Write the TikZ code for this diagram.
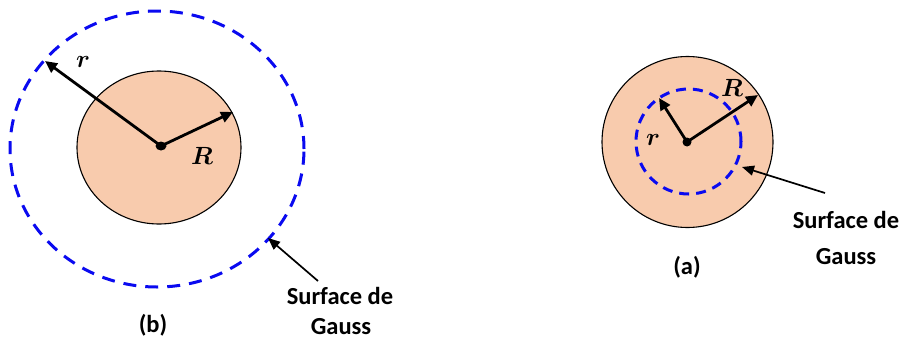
\documentclass[tikz,border=0pt]{standalone}
\usepackage{fontspec}
\usepackage{amsmath,bm}
\newfontfamily\lblfont{Carlito}
\usetikzlibrary{arrows.meta}
\definecolor{peach}{HTML}{F8CBAD}
\definecolor{gblue}{HTML}{0A0AF0}
\tikzset{
  sphere/.style={fill=peach,draw=black,line width=1.1pt},
  gauss/.style={draw=gblue,line width=3pt,dash pattern=on 13pt off 9pt},
  gaussin/.style={draw=gblue,line width=3pt,dash pattern=on 10pt off 7pt},
  radius/.style={line width=2.8pt,-{Triangle[length=12pt,width=11pt]}},
  pointer/.style={line width=1.7pt,-{Triangle[length=12pt,width=10pt]}},
  lbl/.style={font=\lblfont\bfseries\fontsize{24.5}{29}\selectfont,inner sep=0pt},
  sym/.style={font=\fontsize{28}{33}\selectfont,inner sep=0pt},
}
\begin{document}
\begin{tikzpicture}[x=1pt,y=-1pt]
\useasboundingbox (0,0) rectangle (904,340);
% ---- (b) ----
\coordinate (cb) at (161,146);
\draw[sphere] (159,147.5) ellipse [x radius=82pt, y radius=76.5pt];
\draw[gauss] (157,149) ellipse [x radius=147pt, y radius=138pt];
\coordinate (rb) at (45,61);
\coordinate (Rb) at (233,112);
\draw[radius] (cb) -- (rb);
\draw[radius] (cb) -- (Rb);
\fill (cb) ellipse [x radius=5.5pt, y radius=4.5pt];
\node[sym] (lrb) at (83,62) {$\bm{r}$};
\node[sym] (lRb) at (202,156) {$\bm{R}$};
\coordinate (pb) at (268,238);
\node[lbl] (sb1) at (340,296) {Surface de};
\node[lbl] (sb2) at (341,327) {Gauss};
\coordinate (tb) at (318,281);
\draw[pointer] (tb) -- (pb);
\node[lbl] (capb) at (153,325) {(b)};
% ---- (a) ----
\coordinate (ca) at (687,142);
\draw[sphere] (687.5,142) ellipse [x radius=85.5pt, y radius=85.5pt];
\draw[gaussin] (688.5,141.5) ellipse [x radius=52.5pt, y radius=52.5pt];
\coordinate (ra) at (659,98);
\coordinate (Ra) at (758,95);
\draw[radius] (ca) -- (ra);
\draw[radius] (ca) -- (Ra);
\fill (ca) ellipse [x radius=4.5pt, y radius=4.5pt];
\node[sym] (lra) at (653,140) {$\bm{r}$};
\node[sym] (lRa) at (732,88) {$\bm{R}$};
\coordinate (pa) at (742,167);
\coordinate (ta) at (825,193);
\draw[pointer] (ta) -- (pa);
\node[lbl] (sa1) at (846,220) {Surface de};
\node[lbl] (sa2) at (846,257) {Gauss};
\node[lbl] (capa) at (687,267) {(a)};
\end{tikzpicture}
\end{document}
